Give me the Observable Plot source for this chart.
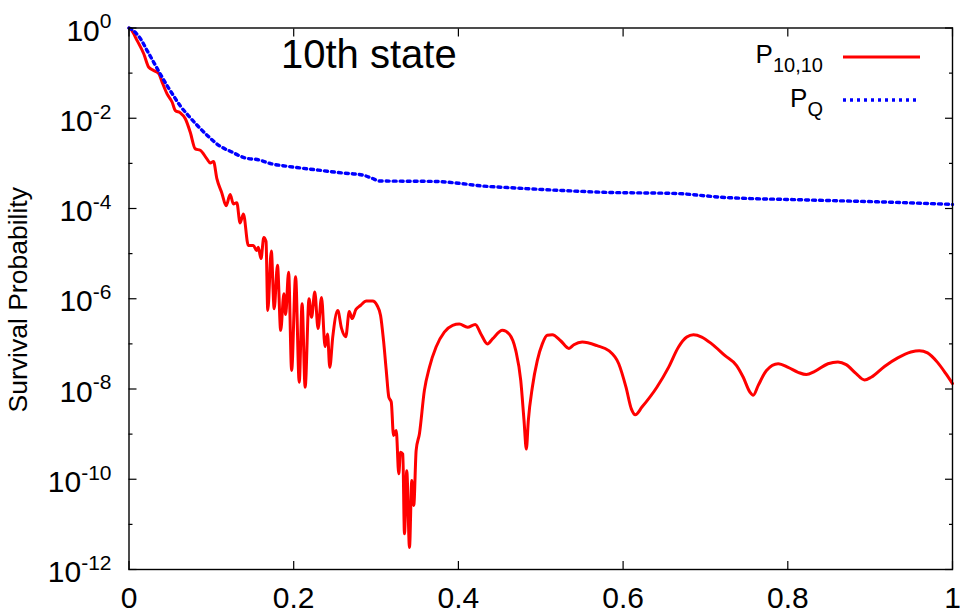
<!DOCTYPE html>
<html>
<head>
<meta charset="utf-8">
<script src="https://cdn.jsdelivr.net/npm/d3@7"></script>
<script src="https://cdn.jsdelivr.net/npm/@observablehq/plot@0.6"></script>
<style>
  html, body { margin: 0; padding: 0; background: #fff; }
  #chart svg { display: block; }
</style>
</head>
<body>
<div id="chart"></div>
<script>
// Survival probability of the 10th state, P_{10,10}: time and log10(P)
const p1010Time = [
  0, 0.0018, 0.0099, 0.0179, 0.0240, 0.0300, 0.0361, 0.0402, 0.0462, 0.0523,
  0.0563, 0.0623, 0.0684, 0.0744, 0.0805, 0.0865, 0.0946, 0.0986, 0.1026, 0.1067,
  0.1128, 0.1180, 0.1228, 0.1268, 0.1309, 0.1349, 0.1389, 0.1449, 0.1510, 0.1549,
  0.1570, 0.1603, 0.1637, 0.1664, 0.1685, 0.1728, 0.1763, 0.1803, 0.1842, 0.1881,
  0.1902, 0.1938, 0.1975, 0.2023, 0.2067, 0.2102, 0.2139, 0.2186, 0.2217, 0.2256,
  0.2296, 0.2338, 0.2381, 0.2411, 0.2438, 0.2474, 0.2535, 0.2580, 0.2632, 0.2675,
  0.2710, 0.2755, 0.2811, 0.2882, 0.2958, 0.3013, 0.3055, 0.3091, 0.3124, 0.3155,
  0.3185, 0.3212, 0.3245, 0.3276, 0.3297, 0.3325, 0.3345, 0.3373, 0.3406, 0.3434,
  0.3458, 0.3487, 0.3527, 0.3587, 0.3648, 0.3729, 0.3829, 0.3930, 0.4011, 0.4111,
  0.4205, 0.4273, 0.4353, 0.4414, 0.4535, 0.4616, 0.4697, 0.4757, 0.4797, 0.4825,
  0.4849, 0.4898, 0.4958, 0.5019, 0.5079, 0.5140, 0.5241, 0.5342, 0.5402, 0.5503,
  0.5684, 0.5826, 0.5947, 0.6035, 0.6100, 0.6149, 0.6229, 0.6410, 0.6552, 0.6673,
  0.6773, 0.6854, 0.6955, 0.7076, 0.7238, 0.7378, 0.7459, 0.7540, 0.7580, 0.7641,
  0.7741, 0.7883, 0.8004, 0.8125, 0.8225, 0.8327, 0.8488, 0.8609, 0.8709, 0.8830,
  0.8932, 0.9012, 0.9174, 0.9335, 0.9495, 0.9597, 0.9697, 0.9818, 0.9919, 1.0
];
const p1010Exp = [
  0, -0.02, -0.28, -0.57, -0.87, -0.94, -1.01, -1.20, -1.46, -1.64,
  -1.83, -1.88, -2.01, -2.31, -2.68, -2.71, -2.90, -2.99, -2.96, -3.34,
  -3.66, -3.94, -3.69, -3.90, -3.87, -4.32, -4.12, -4.82, -4.82, -4.93,
  -4.86, -5.11, -4.64, -4.73, -6.26, -4.94, -6.22, -5.26, -6.70, -5.89,
  -6.35, -5.41, -7.59, -5.51, -7.85, -6.11, -7.96, -6.00, -6.41, -5.85,
  -6.66, -5.97, -7.06, -6.78, -7.52, -6.85, -6.26, -6.65, -6.84, -6.28,
  -6.44, -6.24, -6.15, -6.05, -6.05, -6.15, -6.37, -6.93, -7.59, -8.18,
  -8.29, -9.03, -8.92, -9.88, -9.40, -9.44, -11.21, -9.81, -11.51, -10.03,
  -10.58, -9.36, -8.99, -8.03, -7.52, -7.07, -6.74, -6.59, -6.56, -6.63,
  -6.57, -6.78, -7.00, -6.89, -6.70, -6.78, -7.15, -7.81, -8.70, -9.33,
  -8.70, -7.96, -7.37, -7.00, -6.81, -6.80, -6.93, -7.10, -7.02, -6.96,
  -7.04, -7.15, -7.44, -7.96, -8.44, -8.57, -8.40, -7.96, -7.52, -7.07,
  -6.85, -6.80, -6.85, -7.00, -7.26, -7.48, -7.74, -8.07, -8.14, -7.92,
  -7.59, -7.44, -7.52, -7.63, -7.68, -7.61, -7.44, -7.40, -7.46, -7.66,
  -7.80, -7.74, -7.50, -7.31, -7.18, -7.15, -7.20, -7.41, -7.66, -7.88
];

// Total survival probability P_Q: time and log10(P)
const pqTime = [
  0, 0.003, 0.014, 0.022, 0.030, 0.038, 0.046, 0.054, 0.062, 0.072,
  0.083, 0.095, 0.109, 0.125, 0.141, 0.157, 0.173, 0.19, 0.2075, 0.23,
  0.258, 0.284, 0.295, 0.304, 0.371, 0.40, 0.423, 0.474, 0.525, 0.576,
  0.668, 0.70, 0.719, 0.822, 0.924, 1.0
];
const pqExp = [
  0, -0.03, -0.24, -0.50, -0.76, -1.02, -1.27, -1.50, -1.72, -1.94,
  -2.16, -2.38, -2.60, -2.75, -2.88, -2.92, -3.01, -3.06, -3.10, -3.15,
  -3.21, -3.26, -3.33, -3.39, -3.40, -3.44, -3.49, -3.55, -3.60, -3.64,
  -3.67, -3.72, -3.75, -3.81, -3.86, -3.91
];

// Axis ticks and texts
const xTicks = [0, 0.2, 0.4, 0.6, 0.8, 1];
const yMajorExp = [0, -2, -4, -6, -8, -10, -12];
const yMinorExp = [-1, -3, -5, -7, -9, -11];
const legendBase = ["P", "P"];
const legendSub = ["10,10", "Q"];
const titleText = "10th state";
const yLabelText = "Survival Probability";

const FONT = "'Liberation Sans', Arial, Helvetica, sans-serif";
const RED = "#ff0000";
const BLUE = "#0000ff";
const DOTS = "3,4";

const p1010 = p1010Time.map((t, i) => ({t, p: Math.pow(10, p1010Exp[i])}));
const pq = pqTime.map((t, i) => ({t, p: Math.pow(10, pqExp[i])}));
const yMajor = yMajorExp.map(e => Math.pow(10, e));
const yMinor = yMinorExp.map(e => Math.pow(10, e));

const margin = {top: 27.5, right: 8, bottom: 44, left: 128.5};
const tickStyle = {stroke: "#000", strokeWidth: 1.2, fill: "none", label: null};

const chart = Plot.plot({
  width: 960,
  height: 613,
  marginTop: margin.top,
  marginRight: margin.right,
  marginBottom: margin.bottom,
  marginLeft: margin.left,
  style: {fontFamily: FONT, background: "#fff", color: "#000", overflow: "visible"},
  x: {domain: [0, 1]},
  y: {type: "log", domain: [1e-12, 1]},
  marks: [
    // curves
    Plot.line(p1010, {x: "t", y: "p", stroke: RED, strokeWidth: 3, curve: "monotone-x"}),
    Plot.line(pq, {x: "t", y: "p", stroke: BLUE, strokeWidth: 3.4, strokeDasharray: DOTS, curve: "monotone-x"}),

    // inward-pointing tick marks on all four sides
    Plot.axisY({ticks: yMajor, anchor: "left", tickSize: 8, dx: 8, ...tickStyle}),
    Plot.axisY({ticks: yMajor, anchor: "right", tickSize: 8, dx: -8, ...tickStyle}),
    Plot.axisY({ticks: yMinor, anchor: "left", tickSize: 4, dx: 4, ...tickStyle}),
    Plot.axisY({ticks: yMinor, anchor: "right", tickSize: 4, dx: -4, ...tickStyle}),
    Plot.axisX({ticks: xTicks, anchor: "bottom", tickSize: 8, dy: -8, ...tickStyle}),
    Plot.axisX({ticks: xTicks, anchor: "top", tickSize: 8, dy: 8, ...tickStyle}),

    // tick labels
    Plot.axisY({
      ticks: yMajor, anchor: "left", tickSize: 0, tickPadding: 17.5, dy: 3,
      tickFormat: d => "10^" + yMajorExp[yMajor.indexOf(d)],
      fontSize: 30, label: null
    }),
    Plot.axisX({
      ticks: xTicks, anchor: "bottom", tickSize: 0, tickPadding: 17,
      tickFormat: d => String(d), fontSize: 30, label: null
    }),

    // axis title and in-plot title
    Plot.text([yLabelText], {
      frameAnchor: "left", textAnchor: "middle", dx: -110, dy: 1, rotate: -90,
      fontSize: 26.5, fill: "#000"
    }),
    Plot.text([titleText], {
      frameAnchor: "top-left", dx: 152, dy: 27, textAnchor: "start",
      lineAnchor: "middle", fontSize: 40, fill: "#000"
    }),

    Plot.frame({stroke: "#000", strokeWidth: 1.4})
  ]
});

// power-of-ten labels: turn "10^e" into 10 with a raised exponent
d3.select(chart).selectAll('[aria-label="y-axis tick label"] text').each(function () {
  const s = this.textContent;
  const [base, exp] = s.split("^");
  const t = d3.select(this);
  t.text(null);
  t.append("tspan").text(base);
  t.append("tspan").attr("font-size", 21).attr("dy", "-0.58em").text(exp);
});

// key in the upper right corner
const key = d3.select(chart).append("g")
  .attr("font-family", FONT)
  .attr("font-size", 26)
  .attr("fill", "#000");
const keyStroke = [
  {stroke: RED, width: 3, dash: null, x2: 920},
  {stroke: BLUE, width: 3.4, dash: DOTS, x2: 917}
];
legendBase.forEach((b, i) => {
  const yText = 63 + 44 * i;
  const yLine = 57 + 43 * i;
  const txt = key.append("text")
    .attr("x", 823)
    .attr("y", yText)
    .attr("text-anchor", "end");
  txt.append("tspan").text(b);
  txt.append("tspan").attr("font-size", 20).attr("dy", "0.45em").text(legendSub[i]);
  key.append("line")
    .attr("x1", 843).attr("x2", keyStroke[i].x2)
    .attr("y1", yLine).attr("y2", yLine)
    .attr("stroke", keyStroke[i].stroke)
    .attr("stroke-width", keyStroke[i].width)
    .attr("stroke-dasharray", keyStroke[i].dash);
});

document.getElementById("chart").appendChild(chart);
</script>
</body>
</html>
